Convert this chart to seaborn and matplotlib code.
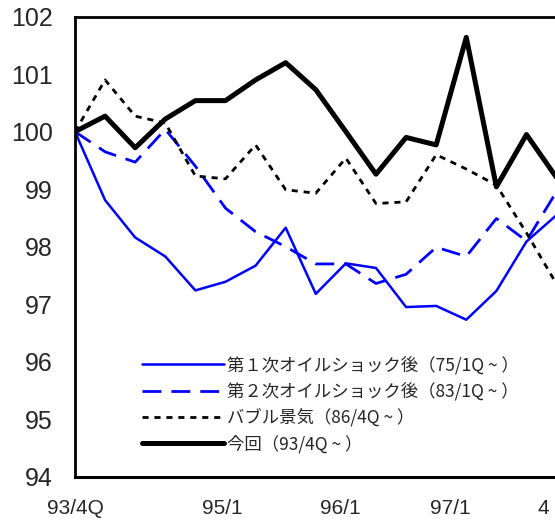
import numpy as np
import pandas as pd
import seaborn as sns
import matplotlib.pyplot as plt

# quarter index, 0 = 93/4Q
quarters = list(range(17))
first_oil = [100, 98.81, 98.16, 97.83, 97.24, 97.39, 97.67, 98.33, 97.18,
             97.71, 97.63, 96.95, 96.97, 96.73, 97.23, 98.09, 98.55]
second_oil = [100, 99.65, 99.47, 100.04, 99.4, 98.67, 98.26, 98.0, 97.7,
              97.7, 97.36, 97.52, 97.99, 97.83, 98.49, 98.1, 98.96]
bubble = [100, 100.9, 100.27, 100.15, 99.23, 99.18, 99.77, 98.99, 98.93,
          99.54, 98.75, 98.78, 99.6, 99.35, 99.07, 98.24, 97.35]
current = [100, 100.27, 99.72, 100.22, 100.54, 100.54, 100.9, 101.2, 100.73,
           100.0, 99.26, 99.9, 99.77, 101.64, 99.04, 99.95, 99.2]

labels = ["第１次オイルショック後（75/1Q ~ ）", "第２次オイルショック後（83/1Q ~ ）",
          "バブル景気（86/4Q ~ ）", "今回（93/4Q ~ ）"]
x_tick_pos = [0, 4.88, 8.82, 12.48, 15.57]
x_tick_labels = ["93/4Q", "95/1", "96/1", "97/1", "4"]
y_ticks = [94, 95, 96, 97, 98, 99, 100, 101, 102]

df = pd.DataFrame({"q": quarters, "first": first_oil, "second": second_oil,
                   "bubble": bubble, "current": current})

sns.set_style("white")
plt.rcParams['font.family'] = ['Liberation Sans', 'DejaVu Sans']

fig = plt.figure(figsize=(5.55, 5.27), dpi=100)
# axes run off the right edge like the cropped original
ax = fig.add_axes([0.1351, 0.0954, 0.922, 0.873])

sns.lineplot(data=df, x="q", y="first", ax=ax, color="#0000ff", lw=1.8,
             label=labels[0])
sns.lineplot(data=df, x="q", y="second", ax=ax, color="#0000ff", lw=2.0,
             ls=(0, (6.8, 3.6)), label=labels[1])
sns.lineplot(data=df, x="q", y="bubble", ax=ax, color="black", lw=2.0,
             ls=(0, (2.2, 2.1)), label=labels[2])
sns.lineplot(data=df, x="q", y="current", ax=ax, color="black", lw=3.6,
             label=labels[3])

ax.set_xlim(0, 17)
ax.set_ylim(94, 102)
ax.set_yticks(y_ticks)
ax.set_xticks(x_tick_pos)
ax.set_xticklabels(x_tick_labels)
ax.set_xlabel("")
ax.set_ylabel("")
ax.tick_params(axis="y", direction="in", length=8, width=1, color="#808080",
               labelsize=18, pad=15.8)
ax.tick_params(axis="x", length=0, labelsize=15, pad=16)

for side in ["left", "bottom", "top", "right"]:
    ax.spines[side].set_color("black")
ax.spines["left"].set_linewidth(2)
ax.spines["bottom"].set_linewidth(2.2)
ax.spines["top"].set_linewidth(2.0)

leg = ax.legend(loc="upper left", bbox_to_anchor=(142 / 555, 1 - 356 / 527),
                bbox_transform=fig.transFigure, frameon=False, borderpad=0,
                borderaxespad=0, handlelength=4.7, handletextpad=0.22,
                labelspacing=0.45,
                prop={"family": ["Noto Sans CJK JP", "DejaVu Sans"], "size": 12.5})

fig.savefig("out.png", dpi=100)
